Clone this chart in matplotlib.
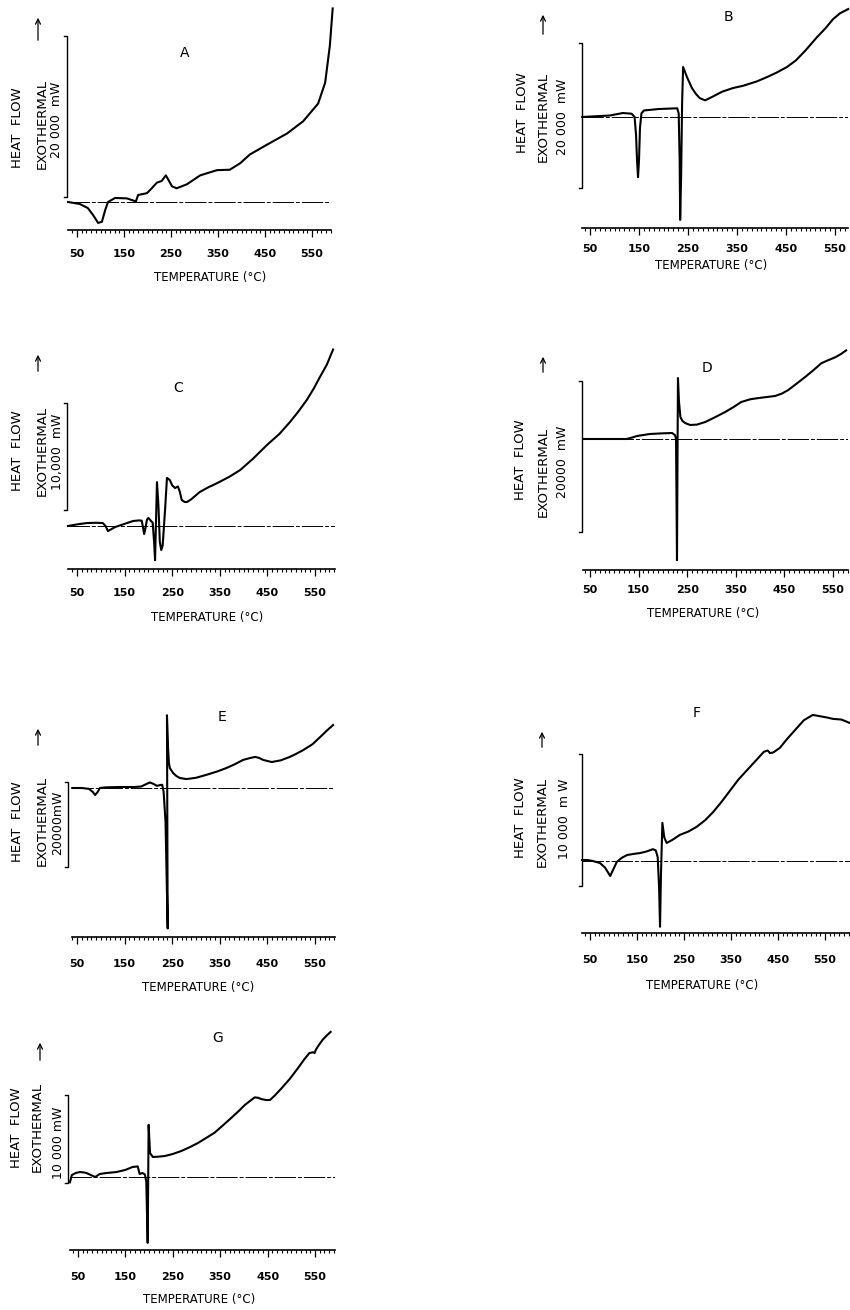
import matplotlib
matplotlib.use("Agg")
import matplotlib.pyplot as plt
from matplotlib.ticker import FixedLocator, MultipleLocator, NullFormatter
from matplotlib.patches import FancyArrowPatch

plt.rcParams['font.family'] = ['DejaVu Sans']

# ---------------- data (temperature in degC, heat flow in mW relative to baseline) ----------------
T_A = [31, 56, 73, 84, 95, 103, 110, 116, 131, 156, 173, 175, 180, 191, 199, 209, 220, 230, 239, 245,
       252, 262, 284, 312, 348, 375, 397, 418, 454, 497, 531, 563, 578, 588, 594]
HF_A = [0, -250, -750, -1600, -2600, -2450, -1000, 0, 500, 450, 120, 0, 870, 1000, 1100, 1700, 2400, 2600,
        3300, 2700, 1950, 1700, 2200, 3300, 3950, 4000, 4800, 5900, 7100, 8500, 10000, 12200, 14800, 19400, 24000]

T_B = [34, 60, 90, 117, 135, 141, 144, 146, 148, 150, 152, 155, 160, 190, 228, 231, 233, 234, 236, 238,
       240, 244, 248, 258, 266, 274, 285, 300, 320, 342, 362, 390, 411, 430, 452, 470, 490, 513, 530, 546, 560, 577]
HF_B = [0, 100, 200, 550, 450, 0, -2500, -6000, -8300, -6000, -1500, 500, 900, 1100, 1200, 500, -6000, -14200,
        -8000, 2000, 6900, 6200, 5500, 4000, 3200, 2600, 2300, 2800, 3500, 4000, 4300, 4900, 5500, 6100, 6900,
        7800, 9200, 11000, 12200, 13500, 14300, 14900]

T_C = [31, 50, 71, 90, 104, 110, 115, 122, 130, 150, 168, 180, 186, 189, 191, 193, 197, 200, 205, 209, 212,
       214, 216, 218, 221, 224, 227, 230, 235, 239, 245, 250, 256, 262, 266, 270, 276, 281, 290, 308, 325, 344,
       370, 393, 420, 449, 475, 497, 515, 533, 548, 560, 575, 588]
HF_C = [0, 150, 280, 300, 280, 0, -470, -300, -100, 200, 470, 520, 500, -200, -750, -400, 600, 750, 500, 300,
        -1500, -3200, 500, 4100, 2000, -1500, -2250, -1800, 1500, 4500, 4300, 3800, 3550, 3700, 3200, 2430, 2250,
        2240, 2500, 3180, 3600, 4000, 4600, 5240, 6300, 7570, 8600, 9700, 10700, 11800, 12900, 13900, 15100, 16500]

T_D = [36, 80, 125, 137, 147, 173, 200, 219, 225, 227, 229, 230, 231, 233, 236, 240, 246, 256, 270, 287, 305,
       328, 345, 361, 380, 396, 415, 431, 445, 458, 475, 493, 510, 526, 540, 555, 566, 577]
HF_D = [0, 0, 0, 200, 400, 660, 750, 790, 500, 0, -16000, -3000, 8050, 5000, 2900, 2400, 2100, 1850, 1900, 2240,
        2800, 3560, 4200, 4880, 5250, 5400, 5550, 5680, 6000, 6470, 7300, 8200, 9100, 10000, 10400, 10800, 11200, 11700]

T_E = [40, 60, 75, 83, 88, 93, 98, 110, 140, 170, 185, 195, 203, 210, 218, 225, 229, 232, 236, 240.5, 239,
       241, 243, 245, 252, 259, 266, 280, 300, 322, 345, 364, 380, 399, 412, 424, 432, 441, 459, 478, 497, 510,
       525, 545, 561, 575, 588]
HF_E = [0, 0, -200, -900, -1650, -1000, 0, 150, 235, 235, 350, 900, 1300, 1000, 500, 700, 750, -900, -8000,
        -33000, 17100, 10000, 6000, 4700, 3500, 2800, 2350, 2100, 2400, 3100, 3900, 4700, 5500, 6600, 7000, 7300,
        7100, 6600, 6100, 6500, 7300, 8000, 8900, 10300, 12000, 13500, 14800]

T_F = [33, 45, 56, 71, 82, 93, 100, 107, 118, 129, 145, 156, 170, 184, 190, 194, 197, 199, 201, 204, 208, 213,
       225, 241, 260, 277, 295, 312, 330, 349, 366, 384, 402, 420, 428, 433, 440, 454, 470, 490, 505, 524, 540,
       555, 567, 585, 602]
HF_F = [76, 76, 0, -150, -500, -1140, -600, -76, 250, 456, 550, 600, 720, 900, 800, 300, -2000, -5000, -1000,
        2900, 1800, 1370, 1600, 1980, 2250, 2600, 3100, 3720, 4500, 5400, 6200, 6900, 7600, 8300, 8400, 8200,
        8250, 8600, 9300, 10100, 10700, 11100, 11000, 10900, 10800, 10750, 10500]

T_G = [33, 37, 45, 54, 62, 68, 78, 86, 96, 110, 131, 150, 165, 176, 180, 186, 191, 194, 197, 199, 202, 208,
       220, 233, 250, 268, 285, 303, 320, 338, 355, 373, 390, 402, 413, 423, 430, 437, 447, 455, 465, 479, 497,
       514, 526, 538, 546, 549, 552, 558, 566, 575, 583]
HF_G = [-600, 220, 450, 560, 520, 450, 200, 0, 340, 450, 560, 800, 1130, 1200, 340, 450, 300, -500, -7450, 5900,
        2700, 2260, 2300, 2370, 2600, 2940, 3350, 3840, 4400, 5000, 5800, 6660, 7500, 8140, 8600, 9000, 8950,
        8800, 8700, 8700, 9200, 10000, 11100, 12300, 13200, 14000, 14100, 14000, 14400, 14900, 15500, 16000, 16400]

panel_letters = ['A', 'B', 'C', 'D', 'E', 'F', 'G']
scale_labels = ['20 000  mW', '20 000  mW', '10,000  mW', '20000  mW', '20000mW', '10 000  m W', '10 000 mW']
scale_ranges = [(600, 20600), (-9800, 10200), (1500, 11500), (-12300, 7700), (-18600, 1400), (-1900, 8100), (-700, 9300)]
tick_labels = ['50', '150', '250', '350', '450', '550']
tick_values = [50, 150, 250, 350, 450, 550]
x_title = 'TEMPERATURE (\u00b0C)'
y_title1 = 'HEAT  FLOW'
y_title2 = 'EXOTHERMAL'

series = [(T_A, HF_A), (T_B, HF_B), (T_C, HF_C), (T_D, HF_D), (T_E, HF_E), (T_F, HF_F), (T_G, HF_G)]

# ---------------- layout (pixels, origin top-left) ----------------
W, H = 850, 1310
layout = [
    dict(box=(68, 0, 331, 230), t50=77, ppc=0.47, base=202, mwpp=124, barx=67, pad=8.7,
         letter=(185, 53), hf=(18, 128), ex=(42, 124), sc=(57, 120), arrow=(38, 43, 15), xl=(210, 277)),
    dict(box=(582, 0, 848, 228), t50=590, ppc=0.49, base=117, mwpp=138, barx=582, pad=6.6,
         letter=(728, 17), hf=(522, 113), ex=(543, 117), sc=(562, 117), arrow=(543, 37, 12), xl=(711, 266)),
    dict(box=(68, 335, 335, 569), t50=77, ppc=0.476, base=526, mwpp=93.5, barx=67, pad=9.0,
         letter=(178, 388), hf=(18, 451), ex=(42, 451), sc=(57, 452), arrow=(38, 374, 352), xl=(207, 617)),
    dict(box=(583, 335, 848, 570), t50=590, ppc=0.486, base=439, mwpp=132, barx=582, pad=6.0,
         letter=(707, 368), hf=(520, 460), ex=(543, 472), sc=(563, 462), arrow=(543, 375, 354), xl=(703, 613)),
    dict(box=(72, 700, 335, 937), t50=77, ppc=0.476, base=788, mwpp=235, barx=68, pad=10.5,
         letter=(222, 717), hf=(18, 822), ex=(42, 821), sc=(58, 823), arrow=(38, 748, 726), xl=(198, 988)),
    dict(box=(582, 700, 850, 933), t50=590, ppc=0.47, base=861, mwpp=76, barx=582, pad=11.0,
         letter=(697, 713), hf=(520, 818), ex=(542, 822), sc=(565, 819), arrow=(542, 750, 729), xl=(702, 986)),
    dict(box=(70, 1025, 335, 1250), t50=78, ppc=0.474, base=1177, mwpp=113, barx=68, pad=11.0,
         letter=(218, 1038), hf=(17, 1128), ex=(37, 1127), sc=(58, 1143), arrow=(40, 1063, 1040), xl=(199, 1300)),
]

fig = plt.figure(figsize=(W / 100, H / 100), dpi=100)
fig.patch.set_facecolor('white')


def fx(x):
    return x / W


def fy(y):
    return 1 - y / H


for i, (L, (T, HF)) in enumerate(zip(layout, series)):
    l, t, r, b = L['box']
    ax = fig.add_axes([fx(l), fy(b), (r - l) / W, (b - t) / H])
    ax.set_facecolor('none')
    tl = 50 + (l - L['t50']) / L['ppc']
    tr = 50 + (r - L['t50']) / L['ppc']
    yb = -(b - L['base']) * L['mwpp']
    yt = (L['base'] - t) * L['mwpp']
    ax.set_xlim(tl, tr)
    ax.set_ylim(yb, yt)

    # baseline
    ax.axhline(0, color='black', lw=0.7, linestyle=(0, (22, 2, 4, 2)))
    # curve
    ax.plot(T, HF, color='black', lw=1.5, solid_joinstyle='round', clip_on=False)

    # scale bar
    bx = 50 + (L['barx'] - L['t50']) / L['ppc']
    dx = 3 / L['ppc']
    s0, s1 = scale_ranges[i]
    ax.plot([bx - dx, bx, bx, bx - dx], [s0, s0, s1, s1], color='black', lw=1.0, clip_on=False)

    # axes styling
    for sp in ['top', 'right', 'left']:
        ax.spines[sp].set_visible(False)
    ax.spines['bottom'].set_linewidth(1.2)
    ax.set_yticks([])
    ax.xaxis.set_major_locator(FixedLocator(tick_values))
    ax.set_xticklabels(tick_labels, fontweight='bold')
    ax.xaxis.set_minor_locator(MultipleLocator(10))
    ax.xaxis.set_minor_formatter(NullFormatter())
    ax.tick_params(axis='x', which='major', direction='out', length=5, width=0.9, pad=L['pad'], labelsize=8)
    ax.tick_params(axis='x', which='minor', direction='out', length=2.5, width=0.8)

    # texts
    fig.text(fx(L['letter'][0]), fy(L['letter'][1]), panel_letters[i], ha='center', va='center', fontsize=10)
    fig.text(fx(L['hf'][0]), fy(L['hf'][1]), y_title1, rotation=90, ha='center', va='center', fontsize=9.5)
    fig.text(fx(L['ex'][0]), fy(L['ex'][1]), y_title2, rotation=90, ha='center', va='center', fontsize=9.5)
    fig.text(fx(L['sc'][0]), fy(L['sc'][1]), scale_labels[i], rotation=90, ha='center', va='center', fontsize=9)
    fig.text(fx(L['xl'][0]), fy(L['xl'][1]), x_title, ha='center', va='center', fontsize=8.5)
    ax_, y0, y1 = L['arrow']
    arr = FancyArrowPatch((fx(ax_), fy(y0)), (fx(ax_), fy(y1)), transform=fig.transFigure,
                          arrowstyle='->', mutation_scale=9, lw=0.9, color='black')
    fig.add_artist(arr)

fig.savefig('out.png', dpi=100, facecolor='white')
